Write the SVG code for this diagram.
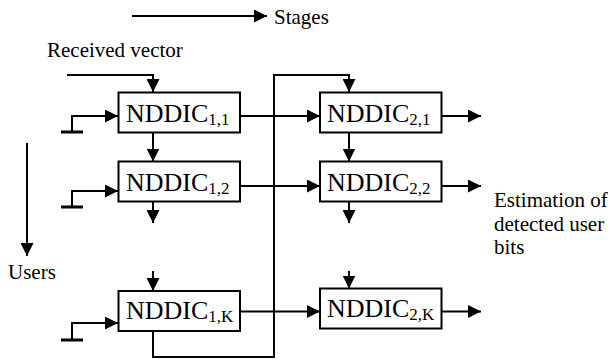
<svg xmlns="http://www.w3.org/2000/svg" width="611" height="362" viewBox="0 0 611 362">
<style>
.ln{fill:none;stroke:#000;stroke-width:2}
.gnd{stroke:#000;stroke-width:3}
.box{fill:#fff;stroke:#000;stroke-width:2}
.nt{font-family:"Liberation Serif","Times New Roman",serif;font-size:26px;fill:#000}
.sub{font-size:17px}
.lbl{font-family:"Liberation Serif","Times New Roman",serif;font-size:21px;fill:#000}
</style>
<defs>
<marker id="ah" markerUnits="userSpaceOnUse" markerWidth="13" markerHeight="13" refX="13" refY="6.5" orient="auto">
<path d="M0,0 L13,6.5 L0,13 z" fill="#000"/>
</marker>
</defs>
<g id="connectors">
<path class="ln" d="M132,16 H267" marker-end="url(#ah)"/>
<path class="ln" d="M27,143 V256" marker-end="url(#ah)"/>
<path class="ln" d="M67,75 H153 V92" marker-end="url(#ah)"/>
<line class="gnd" x1="61" y1="132" x2="83" y2="132"/>
<path class="ln" d="M72,132 V116 H118" marker-end="url(#ah)"/>
<line class="gnd" x1="61" y1="207" x2="83" y2="207"/>
<path class="ln" d="M72,207 V191 H118" marker-end="url(#ah)"/>
<line class="gnd" x1="61" y1="340" x2="83" y2="340"/>
<path class="ln" d="M72,340 V323 H118" marker-end="url(#ah)"/>
<path class="ln" d="M153,132 V161.5" marker-end="url(#ah)"/>
<path class="ln" d="M153,201 V223" marker-end="url(#ah)"/>
<path class="ln" d="M153,271 V291" marker-end="url(#ah)"/>
<path class="ln" d="M349,132 V161.5" marker-end="url(#ah)"/>
<path class="ln" d="M349,201 V223" marker-end="url(#ah)"/>
<path class="ln" d="M349,271 V288.5" marker-end="url(#ah)"/>
<path class="ln" d="M240,116 H320" marker-end="url(#ah)"/>
<path class="ln" d="M240,186 H320" marker-end="url(#ah)"/>
<path class="ln" d="M240,311.5 H320" marker-end="url(#ah)"/>
<path class="ln" d="M441.5,116 H481" marker-end="url(#ah)"/>
<path class="ln" d="M441.5,186 H481" marker-end="url(#ah)"/>
<path class="ln" d="M441.5,311.5 H481" marker-end="url(#ah)"/>
<path class="ln" d="M153,331 V357 H274 V75 H349 V92" marker-end="url(#ah)"/>
</g>
<g id="n11"><rect class="box" x="118.5" y="92.5" width="121.5" height="40"/><text class="nt" x="126" y="122">NDDIC<tspan class="sub" dy="3">1,1</tspan></text></g>
<g id="n12"><rect class="box" x="118.5" y="161.5" width="121.5" height="40"/><text class="nt" x="126" y="190.5">NDDIC<tspan class="sub" dy="3">1,2</tspan></text></g>
<g id="n1k"><rect class="box" x="118.5" y="291" width="121.5" height="40"/><text class="nt" x="126" y="319">NDDIC<tspan class="sub" dy="3">1,K</tspan></text></g>
<g id="n21"><rect class="box" x="320" y="92.5" width="121.5" height="40"/><text class="nt" x="327" y="122">NDDIC<tspan class="sub" dy="3">2,1</tspan></text></g>
<g id="n22"><rect class="box" x="320" y="161.5" width="121.5" height="40"/><text class="nt" x="327" y="190.5">NDDIC<tspan class="sub" dy="3">2,2</tspan></text></g>
<g id="n2k"><rect class="box" x="320" y="288.5" width="121.5" height="40"/><text class="nt" x="327" y="317">NDDIC<tspan class="sub" dy="3">2,K</tspan></text></g>
<g id="labels">
<text class="lbl" x="274" y="24">Stages</text>
<text class="lbl" x="47" y="57">Received vector</text>
<text class="lbl" x="8" y="279">Users</text>
<text class="lbl" x="494" y="207">Estimation of</text>
<text class="lbl" x="494" y="231">detected user</text>
<text class="lbl" x="494" y="254">bits</text>
</g>
</svg>
